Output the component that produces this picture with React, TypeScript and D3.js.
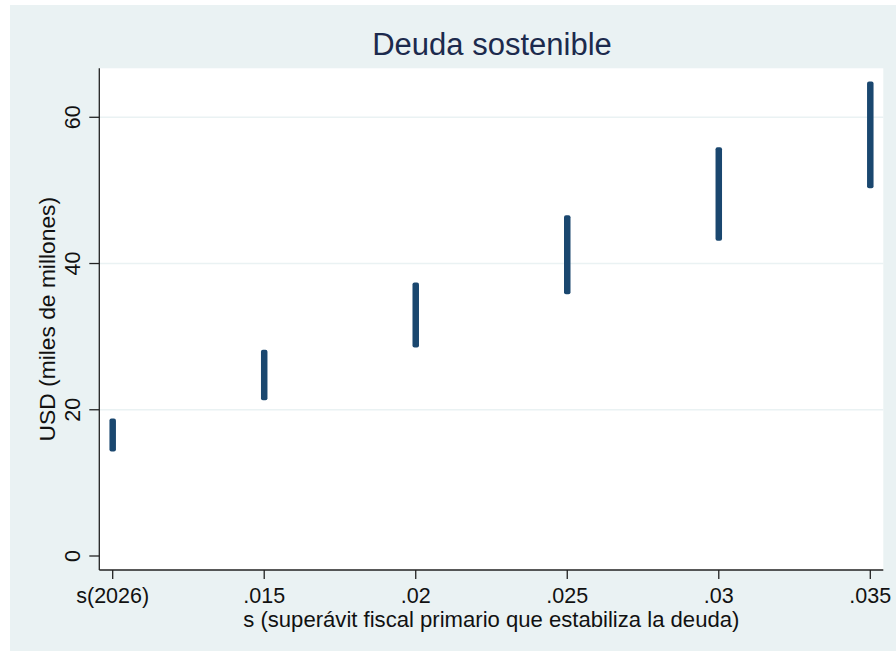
import React from "react";
import * as d3 from "d3";

const categories = ["s(2026)", ".015", ".02", ".025", ".03", ".035"];
const xValues = [0.01, 0.015, 0.02, 0.025, 0.03, 0.035];
const lowValues = [14.3, 21.3, 28.5, 35.8, 43.1, 50.3];
const highValues = [18.8, 28.2, 37.4, 46.6, 55.9, 64.9];
const yTicks = [0, 20, 40, 60];
const gridTicks = [20, 40, 60];

const W = 896;
const H = 656;
const FONT = "'Liberation Sans', Arial, Helvetica, sans-serif";

export default function App() {
  const left = 99.3, right = 883.3, top = 68.3, bottom = 570;
  const x = d3.scaleLinear().domain([0.009558, 0.035429]).range([left, right]);
  const y = d3.scaleLinear().domain([-1.915, 66.7]).range([bottom, top]);
  const barColor = "#1a476f";
  const bg = "#eaf2f3";
  const bw = 6.5;

  return (
    <svg
      width={W}
      height={H}
      style={{ position: "absolute", left: 0, top: 0, background: "#fff" }}
      fontFamily={FONT}
    >
      <rect x={10} y={5} width={W - 10} height={646} fill={bg} />
      <rect x={left} y={top} width={right - left} height={bottom - top} fill="#fff" />
      {gridTicks.map((t) => (
        <line key={"g" + t} x1={left} x2={right} y1={y(t)} y2={y(t)} stroke={bg} strokeWidth={1.6} />
      ))}
      {xValues.map((v, i) => (
        <rect
          key={"b" + i}
          x={x(v) - bw / 2}
          width={bw}
          y={y(highValues[i])}
          height={y(lowValues[i]) - y(highValues[i])}
          rx={2}
          ry={2}
          fill={barColor}
        />
      ))}
      {/* axes */}
      <line x1={left} x2={left} y1={top} y2={bottom} stroke="#222" strokeWidth={1.3} />
      <line x1={left} x2={right} y1={bottom} y2={bottom} stroke="#222" strokeWidth={1.3} />
      {yTicks.map((t) => (
        <g key={"yt" + t}>
          <line x1={left - 10} x2={left} y1={y(t)} y2={y(t)} stroke="#222" strokeWidth={1.3} />
          <text
            transform={`translate(80,${y(t)}) rotate(-90)`}
            textAnchor="middle"
            fontSize={21.5}
            fill="#111"
          >
            {t}
          </text>
        </g>
      ))}
      {xValues.map((v, i) => (
        <g key={"xt" + i}>
          <line x1={x(v)} x2={x(v)} y1={bottom} y2={bottom + 9} stroke="#222" strokeWidth={1.3} />
          <text x={x(v)} y={603} textAnchor="middle" fontSize={21.5} fill="#111">
            {categories[i]}
          </text>
        </g>
      ))}
      <text x={(left + right) / 2} y={627} textAnchor="middle" fontSize={22.1} fill="#111">
        s (superávit fiscal primario que estabiliza la deuda)
      </text>
      <text
        transform={`translate(55,${(top + bottom) / 2}) rotate(-90)`}
        textAnchor="middle"
        fontSize={22.8}
        fill="#111"
      >
        USD (miles de millones)
      </text>
      <text x={492} y={55} textAnchor="middle" fontSize={31} fill="#1c2a4d">
        Deuda sostenible
      </text>
    </svg>
  );
}
